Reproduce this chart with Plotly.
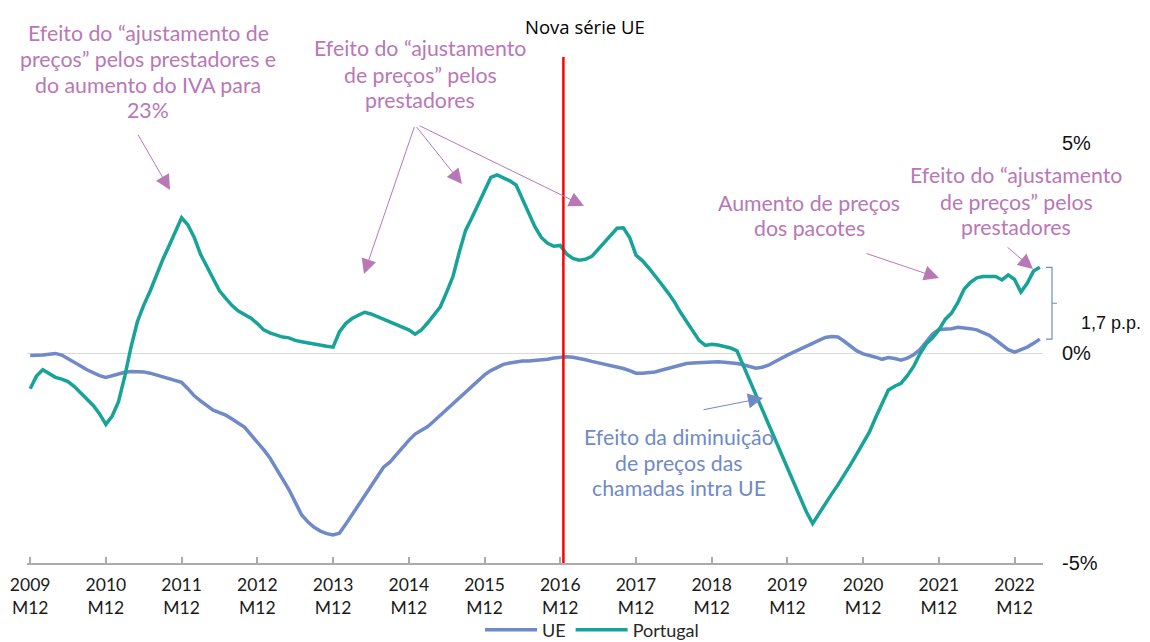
import plotly.graph_objects as go

# ---------------- data (monthly, 2009M12 .. 2023M04) ----------------
portugal = [
    -0.85, -0.55, -0.40, -0.48, -0.58, -0.62, -0.68, -0.80, -0.95, -1.10,
    -1.25, -1.45, -1.70, -1.50, -1.16, -0.55, 0.15, 0.75, 1.14, 1.47,
    1.87, 2.22, 2.55, 2.88, 3.22, 3.05, 2.75, 2.35, 2.05, 1.74,
    1.48, 1.30, 1.13, 1.00, 0.92, 0.83, 0.70, 0.55, 0.48, 0.42,
    0.38, 0.36, 0.30, 0.27, 0.24, 0.20, 0.18, 0.16, 0.14, 0.50,
    0.70, 0.82, 0.90, 0.97, 0.93, 0.87, 0.80, 0.73, 0.68, 0.62,
    0.55, 0.45, 0.55, 0.72, 0.90, 1.10, 1.45, 1.82, 2.40, 2.92,
    3.22, 3.55, 3.90, 4.18, 4.24, 4.17, 4.10, 4.00, 3.68, 3.35,
    3.00, 2.75, 2.61, 2.54, 2.56, 2.36, 2.25, 2.21, 2.23, 2.30,
    2.47, 2.65, 2.83, 2.97, 2.98, 2.75, 2.33, 2.20, 2.03, 1.85,
    1.65, 1.45, 1.24, 0.98, 0.75, 0.50, 0.30, 0.18, 0.21, 0.19,
    0.16, 0.12, 0.05, -0.30, -0.65, -1.03, -1.37, -1.70, -2.04, -2.38,
    -2.74, -3.09, -3.44, -3.78, -4.06, -3.82, -3.58, -3.36, -3.14, -2.91,
    -2.66, -2.40, -2.14, -1.88, -1.53, -1.18, -0.88, -0.79, -0.72, -0.54,
    -0.32, -0.02, 0.22, 0.36, 0.55, 0.80, 0.95, 1.20, 1.52, 1.68,
    1.79, 1.82, 1.83, 1.82, 1.74, 1.86, 1.75, 1.45, 1.66, 1.95,
    2.04,
]
ue = [
    -0.06, -0.06, -0.05, -0.03, -0.01, -0.05, -0.13, -0.22, -0.31, -0.40,
    -0.48, -0.54, -0.58, -0.54, -0.49, -0.46, -0.44, -0.44, -0.45, -0.48,
    -0.52, -0.57, -0.62, -0.66, -0.70, -0.85, -1.02, -1.14, -1.25, -1.36,
    -1.42, -1.48, -1.57, -1.67, -1.77, -1.95, -2.12, -2.30, -2.50, -2.75,
    -3.00, -3.25, -3.55, -3.85, -4.02, -4.15, -4.24, -4.30, -4.33, -4.29,
    -4.08, -3.85, -3.62, -3.38, -3.15, -2.95, -2.72, -2.60, -2.42, -2.25,
    -2.08, -1.93, -1.83, -1.75, -1.62, -1.48, -1.35, -1.22, -1.08, -0.94,
    -0.78, -0.65, -0.52, -0.42, -0.34, -0.27, -0.24, -0.21, -0.19, -0.19,
    -0.18, -0.17, -0.15, -0.12, -0.10, -0.09, -0.10, -0.12, -0.16, -0.20,
    -0.23, -0.26, -0.30, -0.33, -0.37, -0.42, -0.48, -0.48, -0.47, -0.45,
    -0.41, -0.37, -0.31, -0.27, -0.25, -0.24, -0.23, -0.22, -0.21, -0.21,
    -0.22, -0.23, -0.25, -0.28, -0.32, -0.36, -0.34, -0.29, -0.21, -0.12,
    -0.05, 0.02, 0.09, 0.16, 0.23, 0.32, 0.37, 0.39, 0.38, 0.28,
    0.16, 0.05, -0.02, -0.05, -0.10, -0.15, -0.11, -0.13, -0.17, -0.12,
    -0.04, 0.08, 0.27, 0.45, 0.56, 0.56, 0.58, 0.61, 0.60, 0.58,
    0.55, 0.49, 0.42, 0.31, 0.19, 0.08, 0.02, 0.07, 0.14, 0.23,
    0.33,
]
tick_years = ["2009", "2010", "2011", "2012", "2013", "2014", "2015",
              "2016", "2017", "2018", "2019", "2020", "2021", "2022"]
tick_labels = [f"{y}<br>M12" for y in tick_years]
y_ticks = [-5, 0, 5]
y_tick_labels = ["-5%", "0%", "5%"]
nova_serie_pos = 84.5  # boundary between 2016M12 and 2017M01

months = list(range(len(portugal)))
tick_vals = [12 * k for k in range(len(tick_years))]

# ---------------- styling ----------------
OFF = 8  # default page body margin of the html page
W, H = 1150 - OFF, 642 - OFF
ML, MT = 27 - OFF, 143 - OFF
PW, PH = 1016, 420
MR, MB = W - ML - PW, H - MT - PH

BLUE = "#6F8AC7"
TEAL = "#17A398"
PINK = "#B977B7"
TXT_FONT = "Lato"
NOTE_SIZE = 21.3


def px(xp):
    """page pixel x -> paper fraction"""
    return (xp - OFF - ML) / PW


def py(yp):
    """page pixel y -> paper fraction"""
    return (MT + PH - (yp - OFF)) / PH


def label(text, xp, yp, font, xanchor="center"):
    fig.add_annotation(xref="paper", yref="paper", x=px(xp), y=py(yp),
                       text=text, showarrow=False, align="center",
                       xanchor=xanchor, yanchor="middle", font=font)


fig = go.Figure()
fig.add_trace(go.Scatter(x=months, y=ue, mode="lines", name="UE",
                         line=dict(color=BLUE, width=3.5)))
fig.add_trace(go.Scatter(x=months, y=portugal, mode="lines", name="Portugal",
                         line=dict(color=TEAL, width=3.5)))

# red vertical line "Nova série UE"
fig.add_shape(type="line", xref="x", yref="paper",
              x0=nova_serie_pos, x1=nova_serie_pos, y0=0, y1=py(57),
              line=dict(color="#FF0000", width=2.5))
label("Nova série UE", 585, 26,
      dict(family="Open Sans", size=18.5, color="#000000"))

# bracket for the last-point gap
top, bot = portugal[-1], ue[-1]
mid = (top + bot) / 2
bx0, bx1, bx2 = px(1046), px(1052), px(1057)
fig.add_shape(type="path", xref="paper", yref="y",
              path=(f"M {bx0},{top} L {bx1},{top} L {bx1},{bot} L {bx0},{bot} "
                    f"M {bx1},{mid} L {bx2},{mid}"),
              line=dict(color=BLUE, width=1.2))
gap = f"{top - bot:.1f}".replace(".", ",")
label(f"{gap} p.p.", 1111, 323,
      dict(family="Liberation Sans", size=18, color="#111111"))

# text notes: (lines, centre x, line centre ys, colour)
notes = [
    (["Efeito do “ajustamento de", "preços” pelos prestadores e",
      "do aumento do IVA para", "23%"], 148, [33, 59, 85, 110], PINK),
    (["Efeito do “ajustamento", "de preços” pelos", "prestadores"],
     420, [48, 75, 100], PINK),
    (["Aumento de preços", "dos pacotes"], 809, [203, 228], PINK),
    (["Efeito do “ajustamento", "de preços” pelos", "prestadores"],
     1016, [175, 202, 227], PINK),
    (["Efeito da diminuição", "de preços das", "chamadas intra UE"],
     679, [437, 463, 488], BLUE),
]
for lines, xc, ys, col in notes:
    for line, yc in zip(lines, ys):
        label(line, xc, yc, dict(family=TXT_FONT, size=NOTE_SIZE, color=col))

# arrows: (tail_x, tail_y, tip_x, tip_y, colour)
arrows = [
    (137, 133, 170, 190, PINK),
    (415, 125, 364, 274, PINK),
    (415, 125, 462, 184, PINK),
    (418, 125, 584, 206, PINK),
    (865, 253, 939, 278, PINK),
    (1006, 246, 1033, 269, PINK),
    (702, 410, 763, 398, BLUE),
]
for tx, ty, hx, hy, col in arrows:
    fig.add_annotation(xref="paper", yref="paper", x=px(hx), y=py(hy),
                       ax=tx - hx, ay=ty - hy, text=" ", showarrow=True,
                       arrowhead=2, arrowsize=3, arrowwidth=1,
                       arrowcolor=col, font=dict(size=1), standoff=0)

fig.update_layout(
    width=W, height=H,
    margin=dict(l=ML, r=MR, t=MT, b=MB, autoexpand=False),
    paper_bgcolor="white", plot_bgcolor="white",
    showlegend=True,
    legend=dict(orientation="h", xanchor="center", yanchor="middle",
                x=px(592), y=py(630), itemwidth=52,
                font=dict(family=TXT_FONT, size=18, color="#262626"),
                bgcolor="rgba(0,0,0,0)", tracegroupgap=0),
    xaxis=dict(range=[-0.5, len(portugal) - 0.5], tickmode="array",
               tickvals=tick_vals, ticktext=tick_labels, automargin=False,
               showgrid=False, zeroline=False, showline=True,
               linecolor="#ABABAB", linewidth=2,
               ticks="inside", ticklen=6, tickcolor="#ABABAB", tickwidth=1.5,
               ticklabelstandoff=5,
               tickfont=dict(family=TXT_FONT, size=17.5, color="#1A1A1A")),
    yaxis=dict(range=[-5, 5], side="right", tickmode="array",
               tickvals=y_ticks, ticktext=y_tick_labels, automargin=False,
               showgrid=True, gridcolor="#D9D9D9", gridwidth=1,
               zeroline=False, showline=False, ticks="",
               ticklabelstandoff=18,
               tickfont=dict(family="Liberation Sans", size=20, color="#111111")),
)

fig.write_html("out.html")
